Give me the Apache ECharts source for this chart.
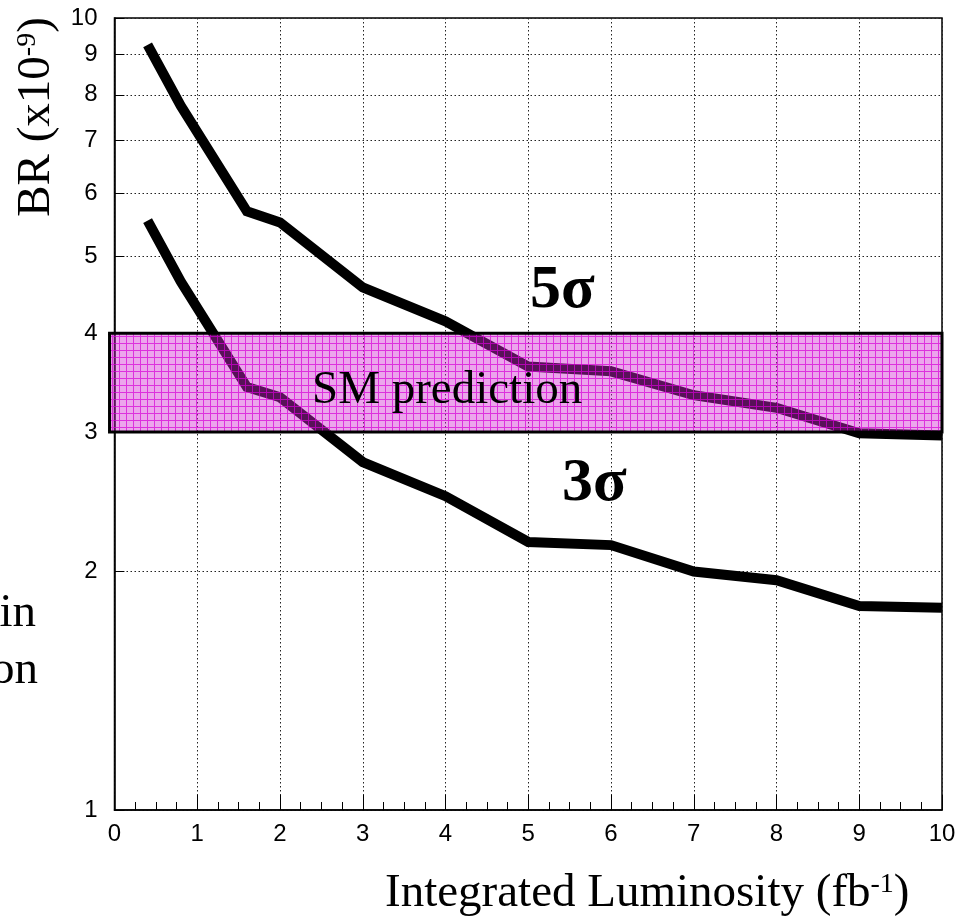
<!DOCTYPE html>
<html><head><meta charset="utf-8">
<script src="https://cdn.jsdelivr.net/npm/echarts@6/dist/echarts.min.js"></script>
<style>html,body{margin:0;padding:0;background:#fff}#c{width:979px;height:921px}</style>
</head><body><div id="c"></div>
<script>
// ---- data ----
const lumi = [0.4, 0.8, 1.6, 2, 3, 4, 5, 6, 7, 8, 9, 10];
const br5sigma = [9.25, 7.75, 5.7, 5.52, 4.57, 4.14, 3.63, 3.58, 3.34, 3.22, 2.99, 2.97];
const br3sigma = [5.55, 4.65, 3.42, 3.32, 2.75, 2.49, 2.18, 2.16, 2.0, 1.95, 1.81, 1.80];
const smBandLumi = [-0.06, 10];
const smBandBR = [3, 4];
const yMinorGrid = [2, 3, 4, 5, 6, 7, 8, 9];

const SERIF = "'Liberation Serif','Times New Roman',serif";
const SANS = "'Liberation Sans',Arial,sans-serif";

// hatched magenta pattern
const pc = document.createElement('canvas');
pc.width = 7; pc.height = 7;
const g = pc.getContext('2d');
g.fillStyle = 'rgba(210,40,210,0.42)'; g.fillRect(0, 0, 7, 7);
g.fillStyle = 'rgba(215,0,215,0.7)'; g.fillRect(0, 0, 7, 1); g.fillRect(0, 1, 1, 6);

const chart = echarts.init(document.getElementById('c'), null, {renderer: 'canvas'});
const dotted = {type: [1.5, 2.5], color: '#222', width: 1};

chart.setOption({
  animation: false,
  backgroundColor: '#fff',
  grid: {left: 114.5, right: 37, top: 18, bottom: 111, show: true, borderColor: '#000', borderWidth: 1.5, backgroundColor: 'transparent'},
  xAxis: {
    type: 'value', min: 0, max: 10, interval: 1,
    axisLine: {show: true, onZero: false, lineStyle: {color: '#000', width: 1.5}},
    axisTick: {show: true, inside: true, length: 15, lineStyle: {color: '#000', width: 1}},
    minorTick: {show: true, splitNumber: 4, length: 8, lineStyle: {color: '#000', width: 1}},
    splitLine: {show: true, lineStyle: dotted},
    axisLabel: {fontSize: 24, fontFamily: SANS, color: '#000', margin: 12}
  },
  yAxis: {
    type: 'log', logBase: 10, min: 1, max: 10,
    axisLine: {show: true, lineStyle: {color: '#000', width: 1.5}},
    axisTick: {show: true, inside: true, length: 10, lineStyle: {color: '#000'}},
    splitLine: {show: true, lineStyle: dotted},
    axisLabel: {fontSize: 24, fontFamily: SANS, color: '#000', margin: 17}
  },
  series: [
    {
      type: 'line', z: 1, silent: true, data: [],
      markLine: {
        z: 1, silent: true, symbol: 'none', animation: false,
        lineStyle: dotted,
        label: {show: true, position: 'start', formatter: p => String(p.value), fontSize: 24, fontFamily: SANS, color: '#000', distance: 17},
        data: yMinorGrid.map(v => ({yAxis: v}))
          .concat(yMinorGrid.map(v => [
            {coord: [0, v], lineStyle: {type: 'solid', color: '#000', width: 1}, label: {show: false}},
            {coord: [0.12, v]}
          ]))
      }
    },
    {
      name: '5sigma', type: 'line', z: 3, symbol: 'none', silent: true,
      data: lumi.map((x, i) => [x, br5sigma[i]]),
      lineStyle: {color: '#000', width: 10, cap: 'butt', join: 'miter'}
    },
    {
      name: '3sigma', type: 'line', z: 3, symbol: 'none', silent: true,
      data: lumi.map((x, i) => [x, br3sigma[i]]),
      lineStyle: {color: '#000', width: 10, cap: 'butt', join: 'miter'}
    },
    {
      name: 'SM', type: 'custom', z: 10, silent: true, clip: false,
      encode: {x: [0, 2], y: [1, 3]},
      data: [[smBandLumi[0], smBandBR[0], smBandLumi[1], smBandBR[1]]],
      renderItem: (params, api) => {
        const p0 = api.coord([api.value(0), api.value(3)]);
        const p1 = api.coord([api.value(2), api.value(1)]);
        return {
          type: 'rect',
          shape: {x: p0[0], y: p0[1], width: p1[0] - p0[0], height: p1[1] - p0[1]},
          style: {fill: {image: pc, repeat: 'repeat'}, stroke: '#000', lineWidth: 3}
        };
      }
    }
  ],
  graphic: [
    {type: 'text', z: 100, x: 312, y: 391, style: {text: 'SM prediction', font: '47px ' + SERIF, fill: '#000', textAlign: 'left', textVerticalAlign: 'middle'}},
    {type: 'text', z: 100, x: 530, y: 291, style: {text: '5σ', font: 'bold 62px ' + SERIF, fill: '#000', textAlign: 'left', textVerticalAlign: 'middle'}},
    {type: 'text', z: 100, x: 562, y: 484, style: {text: '3σ', font: 'bold 62px ' + SERIF, fill: '#000', textAlign: 'left', textVerticalAlign: 'middle'}},
    {type: 'text', z: 100, x: 36, y: 614, style: {text: 'in', font: '47px ' + SERIF, fill: '#000', textAlign: 'right', textVerticalAlign: 'middle'}},
    {type: 'text', z: 100, x: 38, y: 671, style: {text: 'on', font: '47px ' + SERIF, fill: '#000', textAlign: 'right', textVerticalAlign: 'middle'}},
    {type: 'text', z: 100, x: 385, y: 894, style: {
      text: 'Integrated Luminosity (fb{sup|-1})', font: '47px ' + SERIF, fill: '#000', textAlign: 'left', textVerticalAlign: 'middle',
      rich: {sup: {fontSize: 28, fontFamily: SERIF, fill: '#000', verticalAlign: 'top'}}
    }},
    {type: 'text', z: 100, x: 37, y: 117, rotation: Math.PI / 2, style: {
      text: 'BR (x10{sup|-9})', font: '47px ' + SERIF, fill: '#000', textAlign: 'center', textVerticalAlign: 'middle',
      rich: {sup: {fontSize: 28, fontFamily: SERIF, fill: '#000', verticalAlign: 'top'}}
    }}
  ]
});
</script></body></html>
